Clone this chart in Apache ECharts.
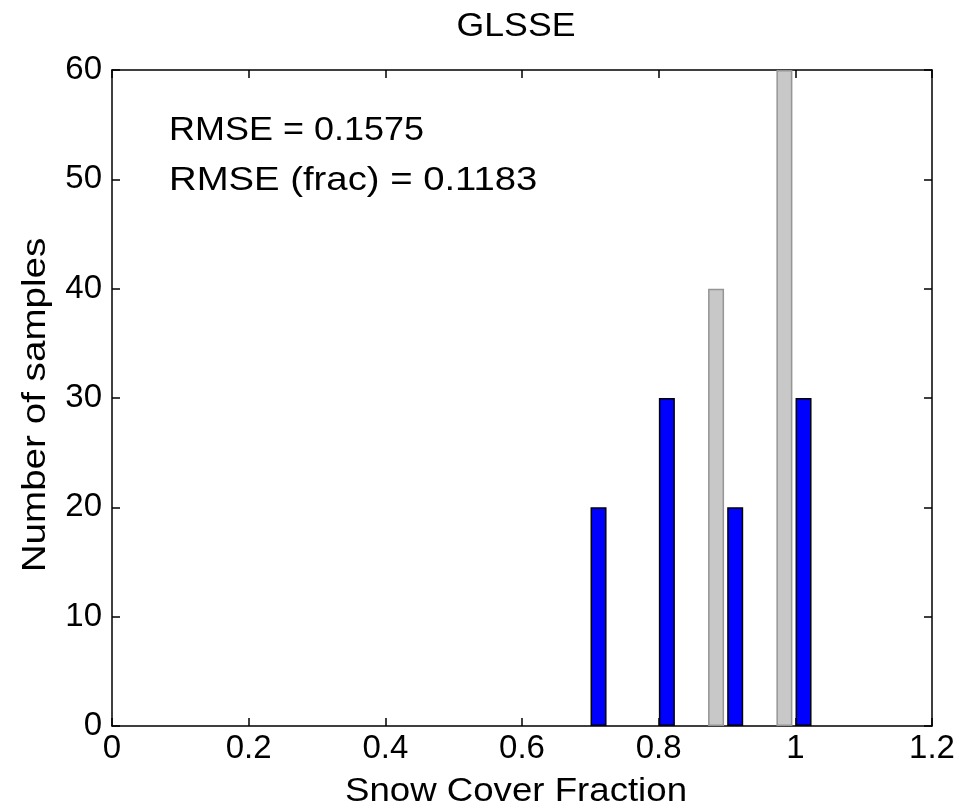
<!DOCTYPE html>
<html>
<head>
<meta charset="utf-8">
<script src="https://cdn.jsdelivr.net/npm/echarts@6/dist/echarts.min.js"></script>
<style>
  html, body { margin: 0; padding: 0; background: #fff; }
  #chart { width: 961px; height: 808px; }
</style>
</head>
<body>
<div id="chart"></div>
<script>
// Histogram of snow cover fraction samples (GLSSE)
var titleText = 'GLSSE';
var xName = 'Snow Cover Fraction';
var yName = 'Number of samples';
var statLines = ['RMSE = 0.1575', 'RMSE (frac) = 0.1183'];

// Bar positions (fraction) and counts
var blueX = [0.712, 0.812, 0.912, 1.012];
var blueCounts = [20, 30, 20, 30];
var grayX = [0.884, 0.984];
var grayCounts = [40, 60];

var xTicks = [0, 0.2, 0.4, 0.6, 0.8, 1.0, 1.2];
var yTicks = [0, 10, 20, 30, 40, 50, 60];

function pairs(xs, ys) {
  return xs.map(function (x, i) { return [x, ys[i]]; });
}

var FONT = "'Liberation Sans', Arial, Helvetica, sans-serif";
var chart = echarts.init(document.getElementById('chart'), null, { renderer: 'canvas' });

var axisLineStyle = { color: '#000', width: 1.5 };
var tickStyle = { show: true, inside: true, length: 8, lineStyle: { color: '#000', width: 1.5 } };

// helper for free-standing text; sx widens the glyph run horizontally
function label(text, x, y, align, sx, rot) {
  return {
    type: 'text', x: x, y: y, scaleX: sx, rotation: rot || 0,
    style: { text: text, font: '33px ' + FONT, fill: '#000', textAlign: align, textVerticalAlign: 'middle' }
  };
}

chart.setOption({
  backgroundColor: '#fff',
  animation: false,
  grid: { left: 112, right: 29, top: 70, bottom: 82, containLabel: false },
  xAxis: [
    {
      type: 'value',
      position: 'bottom',
      min: xTicks[0], max: xTicks[xTicks.length - 1], interval: 0.2,
      axisLine: { show: true, onZero: false, lineStyle: axisLineStyle },
      axisTick: tickStyle,
      splitLine: { show: false },
      axisLabel: {
        color: '#000', fontSize: 33, fontFamily: FONT, margin: 6,
        formatter: function (v) { return String(+v.toFixed(1)); }
      }
    },
    {
      type: 'value',
      position: 'top',
      min: xTicks[0], max: xTicks[xTicks.length - 1], interval: 0.2,
      axisLine: { show: true, onZero: false, lineStyle: axisLineStyle },
      axisTick: tickStyle,
      splitLine: { show: false },
      axisLabel: { show: false }
    }
  ],
  yAxis: [
    {
      type: 'value',
      position: 'left',
      min: yTicks[0], max: yTicks[yTicks.length - 1], interval: 10,
      axisLine: { show: true, onZero: false, lineStyle: axisLineStyle },
      axisTick: tickStyle,
      splitLine: { show: false },
      axisLabel: { color: '#000', fontSize: 33, fontFamily: FONT, margin: 10 }
    },
    {
      type: 'value',
      position: 'right',
      min: yTicks[0], max: yTicks[yTicks.length - 1], interval: 10,
      axisLine: { show: true, onZero: false, lineStyle: axisLineStyle },
      axisTick: tickStyle,
      splitLine: { show: false },
      axisLabel: { show: false }
    }
  ],
  series: [
    {
      type: 'bar',
      name: 'gray',
      xAxisIndex: 0, yAxisIndex: 0,
      data: pairs(grayX, grayCounts),
      barWidth: 16,
      barGap: '-100%',
      itemStyle: { color: '#c8c8c8', borderColor: '#959595', borderWidth: 1.5 },
      z: 2
    },
    {
      type: 'bar',
      name: 'blue',
      xAxisIndex: 0, yAxisIndex: 0,
      data: pairs(blueX, blueCounts),
      barWidth: 16,
      barGap: '-100%',
      itemStyle: { color: '#0000ff', borderColor: '#000', borderWidth: 1.5 },
      z: 3
    }
  ],
  graphic: [
    label(titleText, 516, 27, 'center', 1.08),
    label(xName, 516, 792, 'center', 1.11),
    label(yName, 36, 405, 'center', 1.17, Math.PI / 2),
    label(statLines[0], 169, 131, 'left', 1.09),
    label(statLines[1], 169, 181, 'left', 1.16)
  ]
});
</script>
</body>
</html>
